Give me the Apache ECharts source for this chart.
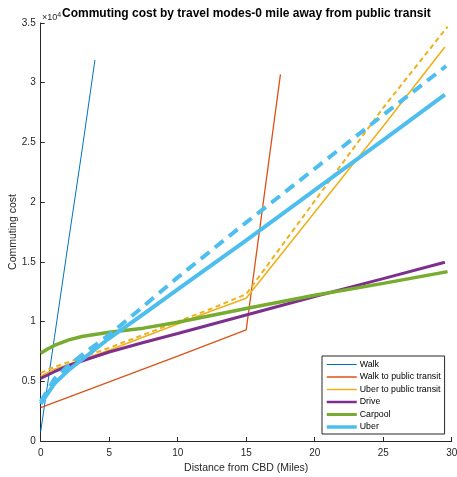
<!DOCTYPE html>
<html><head><meta charset="utf-8">
<script src="https://cdn.jsdelivr.net/npm/echarts@6/dist/echarts.min.js"></script>
<style>html,body{margin:0;padding:0;background:#fff}#c{width:457px;height:477px}</style>
</head><body><div id="c"></div>
<script>
// values in units of 10^4
const walkX = [0, 1, 2, 3, 3.96];
const walkY = [0.08, 0.865, 1.65, 2.42, 3.19];
const walkTransitX = [0, 5, 10, 15, 17.5];
const walkTransitY = [0.28, 0.495, 0.71, 0.93, 3.07];
const uberTransitX = [0, 1, 2, 3, 5, 7.5, 10, 12.5, 15, 20, 25, 29.5];
const uberTransitY = [0.545, 0.6, 0.64, 0.68, 0.76, 0.87, 0.98, 1.09, 1.195, 1.915, 2.635, 3.3];
const uberTransitDashX = [0, 1, 2, 3, 5, 7.5, 10, 12.5, 15, 20, 25, 29.7];
const uberTransitDashY = [0.57, 0.62, 0.66, 0.7, 0.78, 0.89, 1.0, 1.11, 1.23, 2.01, 2.79, 3.47];
const driveX = [0, 1, 2, 3, 5, 7.5, 10, 15, 20, 25, 29.5];
const driveY = [0.525, 0.58, 0.63, 0.67, 0.745, 0.825, 0.9, 1.055, 1.21, 1.36, 1.497];
const carpoolX = [0, 0.5, 1, 2, 3, 5, 7.5, 10, 15, 20, 25, 29.7];
const carpoolY = [0.735, 0.77, 0.8, 0.845, 0.875, 0.91, 0.945, 0.995, 1.11, 1.22, 1.32, 1.418];
const uberX = [0, 1, 2, 3, 5, 7.6, 10, 15, 20, 25, 29.5];
const uberY = [0.31, 0.48, 0.59, 0.68, 0.86, 1.07, 1.27, 1.68, 2.1, 2.52, 2.9];
const uberDashX = [0, 1, 2, 3, 5, 7, 10, 15, 20, 25, 29.6];
const uberDashY = [0.33, 0.52, 0.63, 0.72, 0.89, 1.08, 1.37, 1.83, 2.28, 2.73, 3.14];
const xTicks = [0, 5, 10, 15, 20, 25, 30];
const yTicks = [0, 0.5, 1, 1.5, 2, 2.5, 3, 3.5];
const legendNames = ['Walk', 'Walk to public transit', 'Uber to public transit', 'Drive', 'Carpool', 'Uber'];
const legendWidths = [1, 1.5, 1.5, 2.5, 3, 3.5];

const zip = (xs, ys) => xs.map((x, i) => [x, ys[i]]);
const C = {walk:'#0072BD', wt:'#D95319', ut:'#EDB120', drive:'#7E2F8E', car:'#77AC30', uber:'#4DBEEE'};
function s(name, xs, ys, color, width, type, z) {
  return {name, type:'line', data: zip(xs, ys), symbol:'none', showSymbol:false, smooth:false,
    lineStyle:{color, width, type: type || 'solid'}, itemStyle:{color}, z: z || 2, animation:false};
}
const chart = echarts.init(document.getElementById('c'), null, {renderer:'canvas'});
const txt = '#262626';
const font = 'Liberation Sans, Arial';
chart.setOption({
  animation:false,
  title:{text:'Commuting cost by travel modes-0 mile away from public transit', left:62, top:8, padding:0, z:10,
    textStyle:{fontSize:12, fontWeight:'bold', color:'#000', fontFamily:font}},
  grid:{left:40.7, right:5.3, top:23, bottom:36, containLabel:false, outerBoundsMode:'none'},
  legend:{data: legendNames.map((n, i) => ({name:n, lineStyle:{width:legendWidths[i]}})),
    orient:'vertical', left:322, top:356, itemWidth:30, itemHeight:10, itemGap:2.5,
    padding:[3.5, 4, 2, 3], borderColor:txt, borderWidth:1, backgroundColor:'#fff',
    itemStyle:{opacity:0},
    textStyle:{fontSize:8.8, color:'#000', fontFamily:font, padding:[0,0,0,-2], lineHeight:10}},
  xAxis:{type:'value', min:0, max:30, interval:5, name:'Distance from CBD (Miles)', nameLocation:'middle', nameGap:22,
    nameMoveOverlap:false,
    nameTextStyle:{fontSize:10.5, color:txt, fontFamily:font},
    axisLine:{lineStyle:{color:txt, width:1}}, axisTick:{inside:true, length:4, lineStyle:{color:txt}},
    axisLabel:{fontSize:10, color:txt, margin:7, fontFamily:font}, splitLine:{show:false}},
  yAxis:{type:'value', min:0, max:3.5, interval:0.5, name:'Commuting cost', nameLocation:'middle', nameGap:22,
    nameMoveOverlap:false,
    nameTextStyle:{fontSize:10.5, color:txt, fontFamily:font},
    axisLine:{show:true, lineStyle:{color:txt, width:1}}, axisTick:{show:true, inside:true, length:4, lineStyle:{color:txt}},
    axisLabel:{fontSize:10, color:txt, margin:5, fontFamily:font}, splitLine:{show:false}},
  graphic:[{type:'text', left:42, top:12, z:5, style:{text:'×10{s|4}', fill:txt, fontSize:9, fontFamily:font,
    rich:{s:{fontSize:7, verticalAlign:'top', padding:[0,0,4,0]}}}}],
  series:[
    s('Walk', walkX, walkY, C.walk, 1),
    s('Walk to public transit', walkTransitX, walkTransitY, C.wt, 1.3),
    s('Uber to public transit', uberTransitX, uberTransitY, C.ut, 1.6),
    s('Uber to public transit (dashed)', uberTransitDashX, uberTransitDashY, C.ut, 2, [5, 3.5]),
    s('Drive', driveX, driveY, C.drive, 3),
    s('Carpool', carpoolX, carpoolY, C.car, 3.5),
    s('Uber', uberX, uberY, C.uber, 4),
    s('Uber (dashed)', uberDashX, uberDashY, C.uber, 4, [11, 7])
  ]
});
</script></body></html>
